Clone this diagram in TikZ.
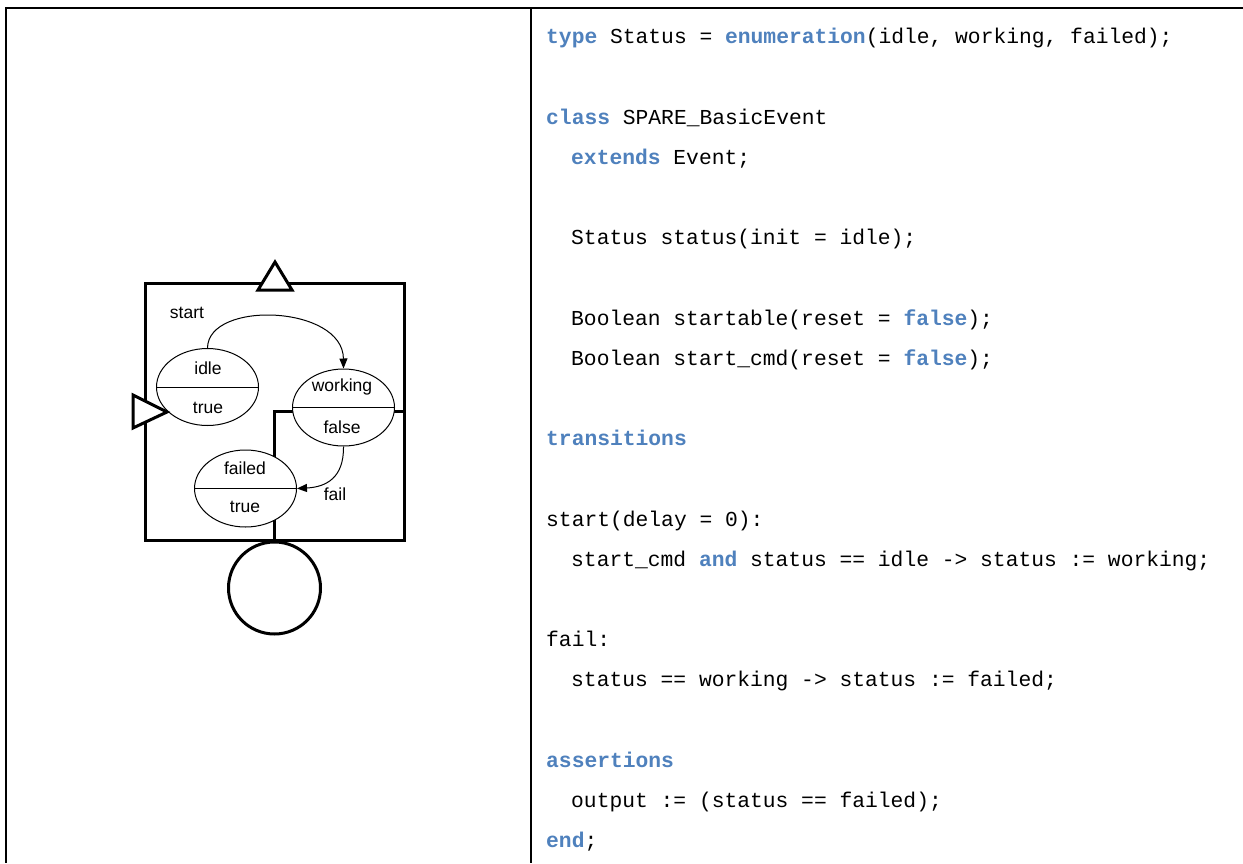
\documentclass[tikz,border=0pt]{standalone}
\usepackage{fontspec}
\setmainfont{Liberation Sans}
\newfontfamily\codefont{Liberation Mono}
\usetikzlibrary{shapes.geometric,arrows.meta}
\definecolor{kwblue}{RGB}{79,129,189}
\newcommand{\kw}[1]{\textcolor{kwblue}{\bfseries #1}}
\tikzset{
  grid/.style={line width=2pt},
  frame/.style={line width=3pt},
  port/.style={line width=3pt, fill=white, line join=miter},
  state/.style={ellipse, draw, line width=1pt, fill=white,
    minimum width=102pt, minimum height=77pt, inner sep=0pt},
  lbl/.style={inner sep=0pt, font=\fontsize{17.5}{17.5}\selectfont},
  trans/.style={line width=1pt, -{Triangle[length=10pt,width=8pt]}},
  code/.style={anchor=base west, inner sep=0pt,
    font=\codefont\fontsize{21.3}{21.3}\selectfont},
}
\begin{document}
\begin{tikzpicture}[x=1pt,y=-1pt]
\useasboundingbox (0,0) rectangle (1243,863);
\fill[white] (0,0) rectangle (1243,863);

% table rules
\draw[grid] (5,8) -- (1243,8);
\draw[grid] (6,8) -- (6,863);
\draw[grid] (531,8) -- (531,863);

% component frame and internal wiring
\draw[frame] (145,283) rectangle (404,540);
\draw[frame] (404,411) -| (274,540);

% states
\node[state] (idle) at (207.5,387) {};
\node[state] (working) at (343.5,407.5) {};
\node[state] (failed) at (245.5,488.5) {};
\draw[line width=0.8pt] (idle.west) -- (idle.east);
\draw[line width=0.8pt] (working.west) -- (working.east);
\draw[line width=0.8pt] (failed.west) -- (failed.east);

\node[lbl] (idleN) at (208,368) {idle};
\node[lbl] (idleV) at (208,408) {true};
\node[lbl] (workN) at (342,387) {working};
\node[lbl] (workV) at (342,427) {false};
\node[lbl] (failN) at (245,468) {failed};
\node[lbl] (failV) at (245,507) {true};

% ports
\draw[port] (275,262) -- (292,290) -- (258,290) -- cycle;
\draw[port] (133,395) -- (167,412) -- (133,428) -- cycle;
\node[circle, draw, line width=3pt, fill=white, minimum size=92pt, inner sep=0pt]
  (out) at (274.5,588) {};

% transitions
\draw[trans] (idle.north) .. controls (208,300) and (343,305) .. (working.north);
\node[lbl] (startL) at (187,313) {start};
\draw[trans] (working.south) .. controls (344,478) and (326,487) .. (failed.east);
\node[lbl] (failL) at (335,494) {fail};

% model source
\node[code] (c1) at (546,43.5) {\kw{type} Status = \kw{enumeration}(idle, working, failed);};
\node[code] (c2) at (546,124) {\kw{class} SPARE\_BasicEvent};
\node[code] (c3) at (571,164.2) {\kw{extends} Event;};
\node[code] (c4) at (571,244.6) {Status status(init = idle);};
\node[code] (c5) at (571,325) {Boolean startable(reset = \kw{false});};
\node[code] (c6) at (571,365.2) {Boolean start\_cmd(reset = \kw{false});};
\node[code] (c7) at (546,445.6) {\kw{transitions}};
\node[code] (c8) at (546,526) {start(delay = 0):};
\node[code] (c9) at (571,566.2) {start\_cmd \kw{and} status == idle -> status := working;};
\node[code] (c10) at (546,646.6) {fail:};
\node[code] (c11) at (571,686.8) {status == working -> status := failed;};
\node[code] (c12) at (546,767.2) {\kw{assertions}};
\node[code] (c13) at (571,807.4) {output := (status == failed);};
\node[code] (c14) at (546,847.6) {\kw{end};};
\end{tikzpicture}
\end{document}
